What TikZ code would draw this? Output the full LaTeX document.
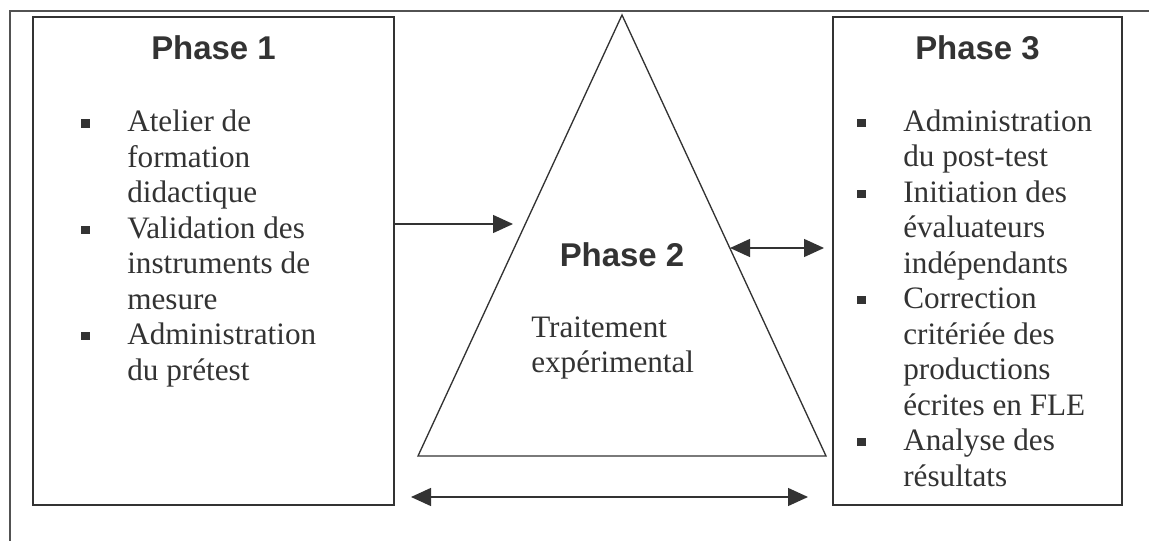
\documentclass[tikz,border=0pt]{standalone}
\usepackage{fontspec}
\setmainfont{Liberation Serif}
\newfontfamily\headfont{Liberation Sans}
\usepackage{tikz}
\usetikzlibrary{positioning, arrows.meta}

\definecolor{ink}{HTML}{333333}
\newcommand\blt{\llap{\raisebox{3.2pt}{\rule{6.3pt}{6.3pt}}\hspace{28.2pt}}}

\begin{document}
\begin{tikzpicture}[
  x=0.75pt, y=-0.75pt,
  color=ink,
  box/.style   ={rectangle, draw=ink, line width=1.5pt, inner sep=0pt},
  title/.style ={font=\headfont\bfseries\fontsize{24.7pt}{28pt}\selectfont,
                 inner sep=0pt, anchor=base},
  items/.style ={font=\fontsize{23.4pt}{26.6pt}\selectfont, align=left,
                 inner sep=0pt, anchor=base west},
  tri/.style   ={draw=ink, line width=1pt, line join=miter},
  flow/.style  ={-{Triangle[length=15pt, width=13.5pt]}, draw=ink, line width=1pt},
  both/.style  ={{Triangle[length=15pt, width=13.5pt]}-{Triangle[length=15pt, width=13.5pt]},
                 draw=ink, line width=1pt}
]
\useasboundingbox (0,0) rectangle (1149,541);

% ---------- outer frame ----------
\draw[draw=ink!85, line width=1.5pt] (10,541) -- (10,11) -- (1149,11);

% ---------- Phase 1 ----------
\node[box, minimum width=270.75pt, minimum height=366pt] (p1) at (213.5,261) {};
\node[title] (t1) at (213.5,60) {Phase 1};
\node[items] (l1) at (127,380.2) % base = last line
  {\blt Atelier de\\ formation\\ didactique\\
   \blt Validation des\\ instruments de\\ mesure\\
   \blt Administration\\ du prétest};

% ---------- Phase 2 ----------
\coordinate (apex) at (622,15);
\coordinate (bl)   at (418,456);
\coordinate (br)   at (826,456);
\draw[tri] (apex) -- (bl) -- (br) -- cycle;
\node[title] (t2) at (622,267) {Phase 2};
\node[items] (l2) at (531,373) {Traitement\\ expérimental};

% ---------- Phase 3 ----------
\node[box, minimum width=216.75pt, minimum height=366pt] (p3) at (977.5,261) {};
\node[title] (t3) at (977.5,60) {Phase 3};
\node[items] (l3) at (903,486)
  {\blt Administration\\ du post-test\\
   \blt Initiation des\\ évaluateurs\\ indépendants\\
   \blt Correction\\ critériée des\\ productions\\ écrites en FLE\\
   \blt Analyse des\\ résultats};

% ---------- Arrows ----------
\coordinate (in2)  at (513,224);
\coordinate (out2) at (730,248);
\coordinate (bot1) at (411,497);
\coordinate (bot2) at (808,497);
\draw[flow] (p1.east |- in2) -- (in2);
\draw[both, shorten >=6pt] (out2) -- (p3.west |- out2);
\draw[both] (bot1) -- (bot2);

\end{tikzpicture}
\end{document}
